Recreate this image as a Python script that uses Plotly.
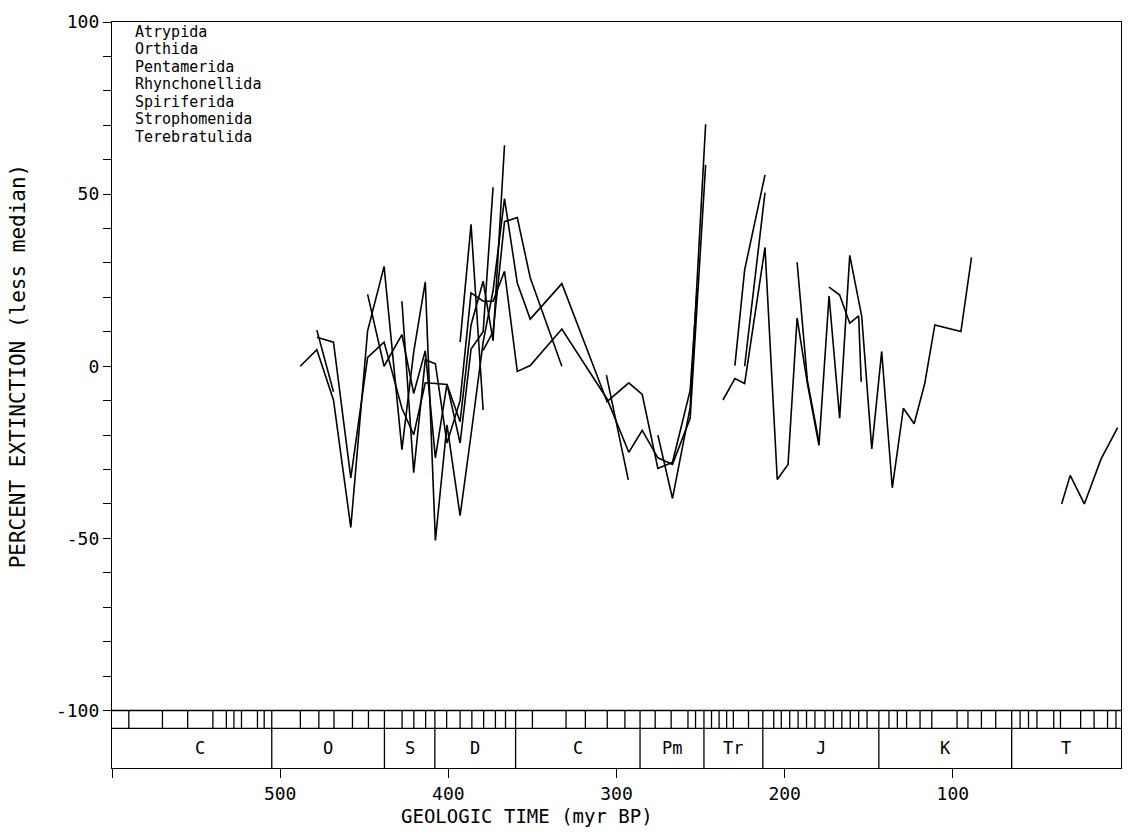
import plotly.graph_objects as go

# ---------------- data ----------------
order_names = ["Atrypida", "Orthida", "Pentamerida", "Rhynchonellida",
               "Spiriferida", "Strophomenida", "Terebratulida"]

atrypida_x = [478.2, 468.3, 458.0, 448.0, 438.2, 427.6, 420.6, 413.7, 407.7, 400.8, 393.0, 386.5, 379.3, 373.4, 366.6]
atrypida_y = [8.4, 7.0, -32.4, 2.6, 7.0, -12.2, -19.9, -4.8, -5.0, -5.3, -16.1, 12.0, 24.7, 7.4, 64.2]

orthida_x = [488.1, 478.2, 468.3, 458.0, 448.0, 438.2, 427.6, 420.6, 413.7, 407.7, 400.8, 393.0, 386.5,
             379.3, 373.4, 366.6, 359.0, 351.3, 332.5, 305.6, 292.7, 284.7, 275.4, 266.7, 256.2, 252.0]
orthida_y = [0.0, 4.8, -9.8, -46.8, 10.3, 29.0, -24.2, 4.1, 24.5, -50.6, -17.0, -43.4, -19.9,
             7.0, 22.0, 48.7, 24.2, 13.7, 24.0, -10.3, -4.8, -8.2, -29.7, -27.9, -7.0, 22.8]

pentamerida_x = [478.2, 468.3, None, 448.0, 438.2, 427.6, 420.6, 413.7, 407.7, 400.8, 393.0, 386.5, 379.3, 373.4]
pentamerida_y = [10.5, -7.4, None, 20.9, 0.0, 9.2, -7.9, 4.5, -26.6, -5.2, -22.3, 5.0, 10.0, 52.0]

rhynchonellida_x = [427.6, 420.6, 413.7, 407.7, 400.8, 393.0, 386.5, 379.3, 373.4, 366.6, 359.0, 351.3, 332.5,
                    305.6, 292.7, 284.7, 275.4, 266.7, 256.2, 247.0, None,
                    236.7, 229.6, 223.8, 211.7, 204.4, 198.0, 192.6, 186.5, 179.6, 173.6, 167.3, 161.3, 154.2,
                    148.2, 142.3, 136.0, 129.4, 123.0, 116.7, 110.7, 95.2, 88.9, None,
                    35.3, 30.2, 21.8, 11.9, 2.0]
rhynchonellida_y = [18.9, -30.9, 1.9, 0.7, -22.3, -10.0, 21.3, 18.9, 18.9, 27.6, -1.5, 0.2, 10.8,
                    -9.5, -25.0, -18.6, -26.6, -28.5, -15.1, 58.5, None,
                    -9.8, -3.6, -5.0, 34.5, -32.9, -28.5, 14.0, -5.0, -23.0, 20.4, -15.1, 32.2, 14.6,
                    -24.0, 4.3, -35.3, -12.2, -16.7, -5.0, 12.0, 10.1, 31.6, None,
                    -40.0, -31.7, -40.0, -27.0, -17.8]

spiriferida_x = [379.3, 373.4, 366.6, 359.0, 351.3, 332.5, None, 306.0, 293.0, None,
                 229.6, 223.8, 211.7, None, 192.6, 186.5, 179.6]
spiriferida_y = [4.6, 10.0, 42.0, 43.2, 25.7, 0.0, None, -2.6, -33.0, None,
                 0.2, 28.0, 55.6, None, 30.2, -4.1, -22.0]

strophomenida_x = [393.0, 386.5, 379.3, None, 275.4, 266.7, 256.2, 247.0]
strophomenida_y = [7.0, 41.2, -12.7, None, -20.0, -38.4, -12.0, 70.3]

terebratulida_x = [223.8, 211.7, None, 173.6, 167.3, 161.3, 156.0, 154.5]
terebratulida_y = [0.0, 50.4, None, 23.0, 20.7, 12.5, 14.6, -4.5]

series_x = [atrypida_x, orthida_x, pentamerida_x, rhynchonellida_x,
            spiriferida_x, strophomenida_x, terebratulida_x]
series_y = [atrypida_y, orthida_y, pentamerida_y, rhynchonellida_y,
            spiriferida_y, strophomenida_y, terebratulida_y]

period_labels = ["C", "O", "S", "D", "C", "Pm", "Tr", "J", "K", "T"]
period_bounds = [590, 505, 438, 408, 360, 286, 248, 213, 144, 65, 0]
stage_ticks = [590, 570, 555, 540, 532, 527.5, 523, 513.5, 509.5,
               488, 477, 468, 457, 447.5,
               427.5, 420.5, 413.5,
               401, 393, 386, 379, 372, 366,
               350, 330, 318.5, 305.5, 295,
               277, 267.5, 257.5, 253,
               243.5, 239, 234.5, 230.5, 221.5,
               206.5, 202, 197, 192, 187, 182, 176, 171, 166, 161, 156, 151,
               138, 133, 127.5, 119.5, 112.5, 97.5, 91, 83, 74.5,
               60, 55, 50, 40, 36, 24, 16, 8, 3]

x_tick_vals = [600, 500, 400, 300, 200, 100]
x_tick_text = ["", "500", "400", "300", "200", "100"]
y_tick_vals = list(range(-100, 101, 10))
y_tick_text = [str(v) if v % 50 == 0 else "" for v in y_tick_vals]

X_RANGE = [600, 0]
Y_RANGE = [-116.7, 100]
SCALE_TOP, SCALE_MID = -100, -105.2

FONT = "DejaVu Sans Mono"

# ---------------- figure ----------------
fig = go.Figure()
for xs, ys in zip(series_x, series_y):
    fig.add_trace(go.Scatter(x=xs, y=ys, mode="lines",
                             line=dict(color="black", width=1.6),
                             showlegend=False, hoverinfo="skip"))

shapes = []
# time-scale box lines
shapes.append(dict(type="line", xref="x", yref="y", x0=X_RANGE[0], x1=X_RANGE[1],
                   y0=SCALE_TOP, y1=SCALE_TOP, line=dict(color="black", width=1.3)))
shapes.append(dict(type="line", xref="x", yref="y", x0=X_RANGE[0], x1=X_RANGE[1],
                   y0=SCALE_MID, y1=SCALE_MID, line=dict(color="black", width=1.3)))
for t in stage_ticks:
    shapes.append(dict(type="line", xref="x", yref="y", x0=t, x1=t,
                       y0=SCALE_TOP, y1=SCALE_MID, line=dict(color="black", width=1.3)))
for b in period_bounds[1:-1]:
    shapes.append(dict(type="line", xref="x", yref="y", x0=b, x1=b,
                       y0=SCALE_TOP, y1=Y_RANGE[0], line=dict(color="black", width=1.3)))

annotations = []
for i, lab in enumerate(period_labels):
    xc = (period_bounds[i] + period_bounds[i + 1]) / 2
    annotations.append(dict(x=xc, y=(SCALE_MID + Y_RANGE[0]) / 2, xref="x", yref="y",
                            text=lab, showarrow=False,
                            font=dict(family=FONT, size=17, color="black")))

# legend as plain text lines
leg_y_px = [25, 42.7, 60.3, 78, 95.7, 113.3, 131]
for name, py in zip(order_names, leg_y_px):
    annotations.append(dict(x=(133 - 112) / 1010, y=1 - (py - 15) / 753,
                            xref="paper", yref="paper", text=name, showarrow=False,
                            xanchor="left", yanchor="middle",
                            font=dict(family=FONT, size=15, color="black")))

annotations.append(dict(x=(18 - 112) / 1010, y=0, xref="paper", yref="y",
                        text="PERCENT EXTINCTION (less median)", textangle=-90,
                        showarrow=False, xanchor="center", yanchor="middle",
                        font=dict(family=FONT, size=21, color="black")))
annotations.append(dict(x=(527 - 112) / 1010, y=-(816 - 768) / 753,
                        xref="paper", yref="paper", text="GEOLOGIC TIME (myr BP)",
                        showarrow=False, xanchor="center", yanchor="middle",
                        font=dict(family=FONT, size=19, color="black")))

fig.update_layout(
    width=1133, height=834,
    margin=dict(l=112, r=11, t=15, b=66),
    paper_bgcolor="white", plot_bgcolor="white",
    shapes=shapes, annotations=annotations,
    xaxis=dict(range=X_RANGE, tickvals=x_tick_vals, ticktext=x_tick_text,
               ticks="outside", ticklen=9, tickwidth=1.3, tickcolor="black",
               showline=True, linecolor="black", linewidth=1.3, mirror=True,
               showgrid=False, zeroline=False,
               tickfont=dict(family=FONT, size=18, color="black")),
    yaxis=dict(range=Y_RANGE, tickvals=y_tick_vals, ticktext=y_tick_text,
               ticks="outside", ticklen=8, tickwidth=1.3, tickcolor="black",
               showline=True, linecolor="black", linewidth=1.3, mirror=True,
               showgrid=False, zeroline=False,
               tickfont=dict(family=FONT, size=18, color="black")),
)

fig.write_html("out.html")
